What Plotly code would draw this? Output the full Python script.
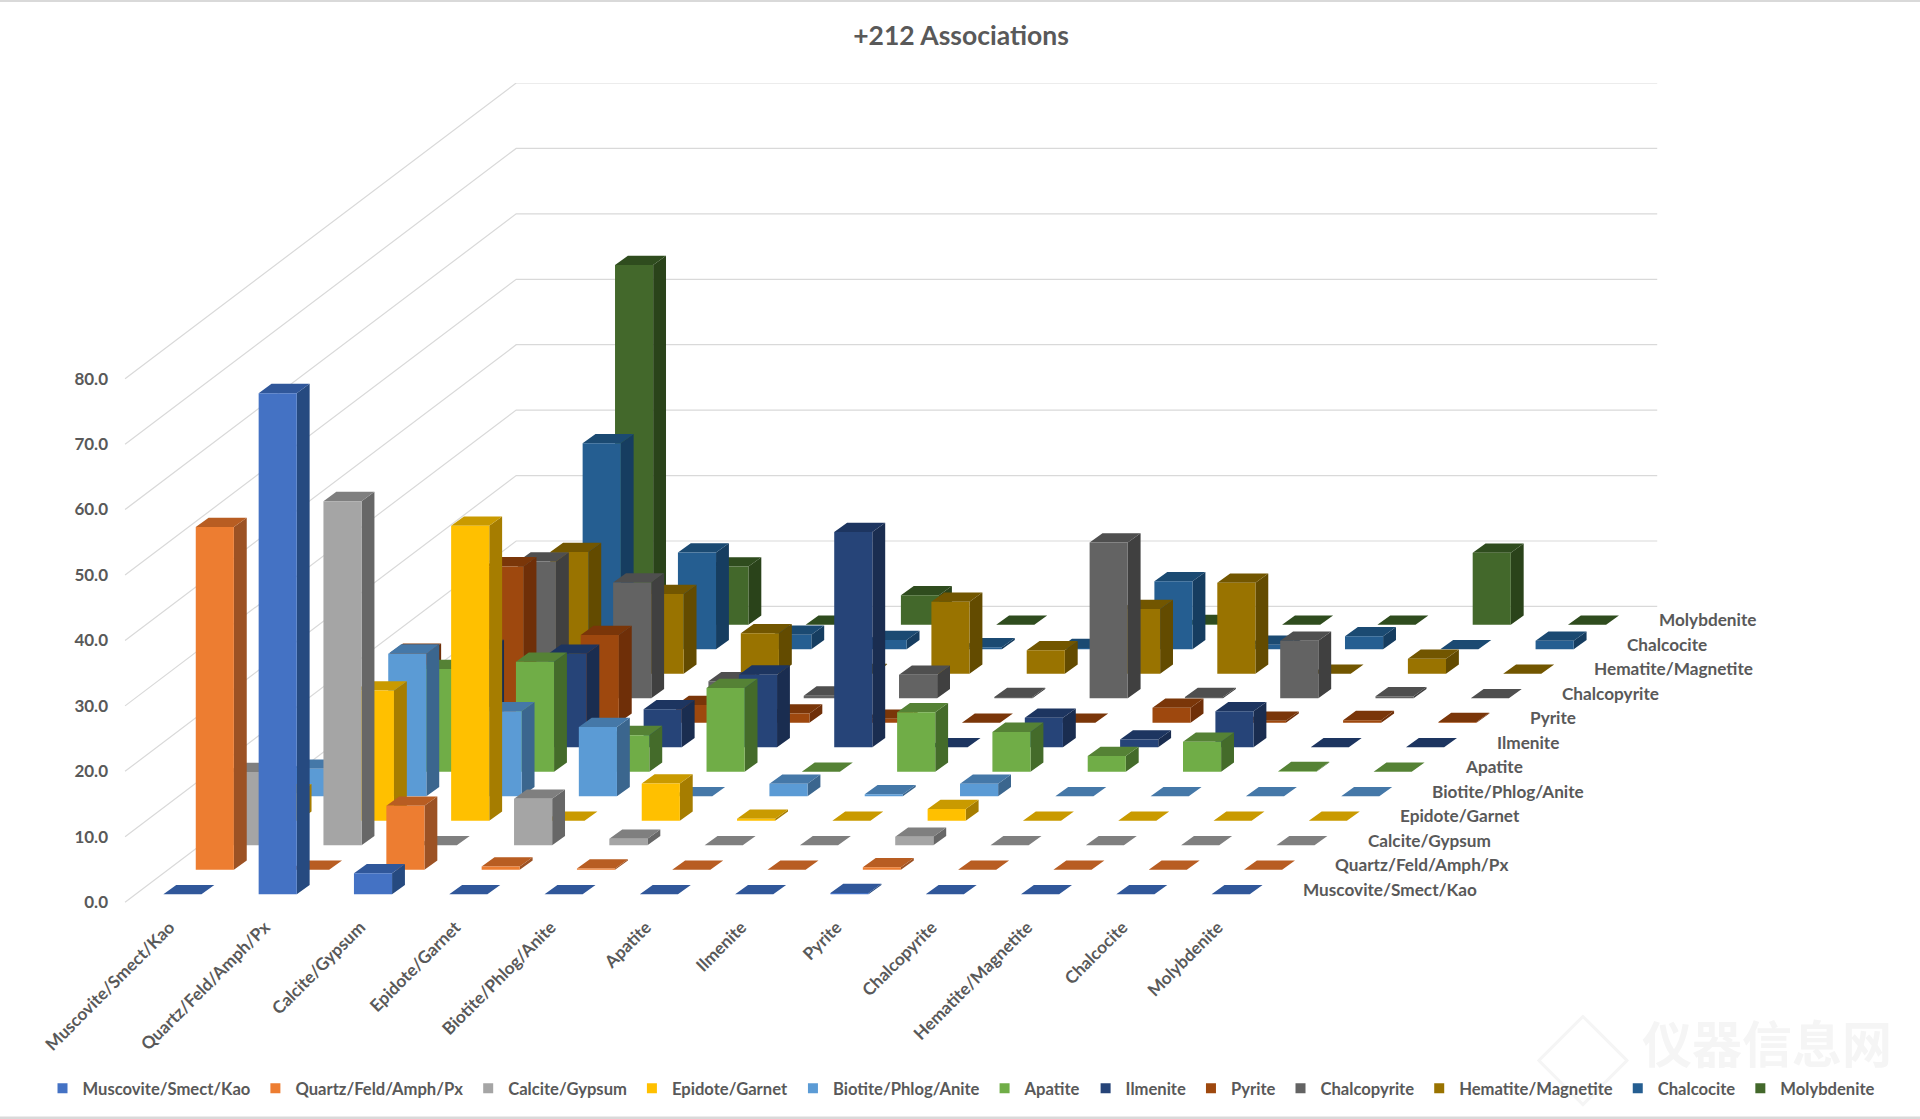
import plotly.graph_objects as go

TITLE = "+212 Associations"
CATEGORIES = ["Muscovite/Smect/Kao", "Quartz/Feld/Amph/Px", "Calcite/Gypsum", "Epidote/Garnet",
              "Biotite/Phlog/Anite", "Apatite", "Ilmenite", "Pyrite", "Chalcopyrite",
              "Hematite/Magnetite", "Chalcocite", "Molybdenite"]
TICKS = [0, 10, 20, 30, 40, 50, 60, 70, 80]

# one list per series, one value per category
muscovite = [0, 76.6, 3.2, 0, 0, 0, 0, 0.2, 0, 0, 0, 0]
quartz = [52.4, 0, 9.8, 0.5, 0.2, 0, 0, 0.4, 0, 0, 0, 0]
calcite = [11.2, 52.6, 0, 7.1, 1.0, 0, 0, 1.3, 0, 0, 0, 0]
epidote = [4.2, 19.9, 45.1, 0, 5.7, 0.3, 0, 1.8, 0, 0, 0, 0]
biotite = [4.2, 21.8, 13.0, 10.6, 0, 1.9, 0.3, 1.9, 0, 0, 0, 0]
apatite = [0, 15.7, 16.8, 5.6, 12.8, 0, 9.1, 6.1, 2.4, 4.6, 0.1, 0]
ilmenite = [0, 15.0, 14.3, 5.8, 11.1, 32.9, 0, 4.5, 1.2, 5.5, 0, 0]
pyrite = [10.7, 23.9, 13.4, 2.7, 1.4, 0.6, 0, 0, 2.3, 0.3, 0.4, 0.1]
chalcopyrite = [0, 20.9, 17.7, 2.6, 0.4, 3.6, 0.2, 23.8, 0.2, 8.8, 0.3, 0]
hematite = [0, 18.6, 12.2, 6.2, 0.1, 11.0, 3.6, 9.9, 13.9, 0, 2.3, 0]
chalcocite = [0, 31.5, 14.8, 2.2, 1.4, 0.3, 0.2, 10.4, 0.7, 2.0, 0, 1.3]
molybdenite = [0, 55.0, 8.9, 0, 4.5, 0, 0, 0.1, 0, 0, 11.0, 0]
SERIES = [muscovite, quartz, calcite, epidote, biotite, apatite, ilmenite, pyrite,
          chalcopyrite, hematite, chalcocite, molybdenite]

FRONT = ["#4472C4", "#ED7D31", "#A5A5A5", "#FFC000", "#5B9BD5", "#70AD47",
         "#264478", "#9E480E", "#636363", "#997300", "#255E91", "#43682B"]
TOP = ["#30579A", "#B85D22", "#7F7F7F", "#C99A00", "#4578A8", "#558235",
       "#1D3560", "#7A3609", "#4F4F4F", "#725600", "#1B4A72", "#2F4C1E"]
SIDE = ["#264A80", "#9C5224", "#676767", "#A67D00", "#3B668E", "#446B2A",
        "#1A2D50", "#6F2F08", "#404040", "#634B00", "#163D60", "#2A431A"]

# oblique projection, in axis units
SKEW_X, SKEW_Y = 26.45 / 77.8, 20 / 5.34
WALL_X = 26.17 / 77.8
GAP_X, GAP_Y = 0.334, 0.94
BAR_W, DEPTH_X, DEPTH_Y = 0.40, 0.135, 1.42
N = len(CATEGORIES)
FONT = "Lato"
TXT = "#595959"

# plot-area frame, page pixels
W, H = 1920, 1119
XMIN, YMIN = -0.1, -1.0
UX, UY = 95.27, 6.54
L = 132 + XMIN * UX
B = 900 - YMIN * UY
R = W
XMAX = (R - 132) / UX
YMAX = 80 + N * SKEW_Y
T = 900 - YMAX * UY


def px(x):
    return (x - L) / (R - L)


def py(y):
    return (B - y) / (B - T)


fig = go.Figure()


def poly(faces, color, name):
    xs, ys = [], []
    for face in faces:
        xs += [p[0] for p in face] + [face[0][0], None]
        ys += [p[1] for p in face] + [face[0][1], None]
    fig.add_trace(go.Scatter(x=xs, y=ys, mode="lines", fill="toself", fillcolor=color,
                             line=dict(width=0, color=color, simplify=False), hoverinfo="skip",
                             name=name, showlegend=False))


# legend entries
for j, s in enumerate(CATEGORIES):
    fig.add_trace(go.Scatter(x=[None], y=[None], mode="markers", name=s,
                             marker=dict(symbol="square", size=10, color=FRONT[j])))

# gridlines on the two walls
gx, gy = [], []
for v in TICKS:
    gx += [-0.068, N * WALL_X, N + N * 26 / 77.8, None]
    gy += [v - 0.26, v + N * SKEW_Y, v + N * SKEW_Y, None]
fig.add_trace(go.Scatter(x=gx, y=gy, mode="lines", line=dict(color="#D9D9D9", width=1.2),
                         hoverinfo="skip", showlegend=False))

# bars, back row first
for j in range(N - 1, -1, -1):
    sides, tops, fronts = [], [], []
    for i, v in enumerate(SERIES[j]):
        x0 = i + GAP_X + j * SKEW_X
        y0 = GAP_Y + j * SKEW_Y
        x1, y1 = x0 + BAR_W, y0 + v
        fronts.append([(x0, y0), (x1, y0), (x1, y1), (x0, y1)])
        tops.append([(x0, y1), (x1, y1), (x1 + DEPTH_X, y1 + DEPTH_Y), (x0 + DEPTH_X, y1 + DEPTH_Y)])
        sides.append([(x1, y0), (x1 + DEPTH_X, y0 + DEPTH_Y), (x1 + DEPTH_X, y1 + DEPTH_Y), (x1, y1)])
    poly(sides, SIDE[j], CATEGORIES[j])
    poly(tops, TOP[j], CATEGORIES[j])
    poly(fronts, FRONT[j], CATEGORIES[j])

# depth-axis labels
annotations = [dict(x=12.27 + j * SKEW_X, y=1.7 + j * SKEW_Y, text=s, showarrow=False,
                    xanchor="left", yanchor="middle", xref="x", yref="y",
                    font=dict(family=FONT, size=17.2, color=TXT, weight=700))
               for j, s in enumerate(CATEGORIES)]
annotations.append(dict(x=px(1767), y=py(1040), text="仪器信息网", showarrow=False,
                        xref="paper", yref="paper", xanchor="center", yanchor="middle",
                        font=dict(family="Noto Sans CJK SC", size=50, color="#F5F5F5", weight=700)))

band_shapes = [dict(type="rect", xref="paper", yref="paper", x0=px(0), x1=px(W),
                    y0=py(a), y1=py(b), fillcolor="#D9D9D9", line_width=0)
               for a, b in [(0, 2), (H - 3, H)]]
logo = dict(type="path", xref="paper", yref="paper", line=dict(color="#F5F5F5", width=3),
            path="M {} {} L {} {} L {} {} L {} {} Z".format(
                px(1583), py(1016), px(1627), py(1060), px(1583), py(1104), px(1539), py(1060)))

fig.update_layout(
    width=W, height=H,
    margin=dict(l=L, r=W - R, t=T, b=H - B, autoexpand=False),
    paper_bgcolor="white", plot_bgcolor="white",
    title=dict(text=TITLE, x=961 / W, y=1 - 36 / H, xanchor="center", yanchor="middle",
               font=dict(family=FONT, size=26.5, color=TXT, weight=700)),
    xaxis=dict(range=[XMIN, XMAX], showgrid=False, zeroline=False, showline=False,
               tickmode="array", tickvals=[i + 0.40 for i in range(N)], ticktext=CATEGORIES,
               tickangle=-45, ticks="", ticklabelstandoff=6,
               tickfont=dict(family=FONT, size=17.2, color=TXT, weight=700), fixedrange=True),
    yaxis=dict(range=[YMIN, YMAX], showgrid=False, zeroline=False, showline=False,
               tickmode="array", tickvals=[t - 0.25 for t in TICKS],
               ticktext=["{:.1f}".format(t) for t in TICKS], ticks="", ticklabelstandoff=13,
               tickfont=dict(family=FONT, size=17, color=TXT, weight=700), fixedrange=True),
    legend=dict(orientation="h", x=px(43), y=py(1088),
                xanchor="left", yanchor="middle", bgcolor="rgba(0,0,0,0)",
                font=dict(family=FONT, size=16.6, color=TXT, weight=700), itemclick=False,
                itemdoubleclick=False),
    annotations=annotations,
    shapes=band_shapes + [logo],
)
fig.write_html("out.html", post_script="document.body.style.margin='0';",
               config=dict(displayModeBar=False))
